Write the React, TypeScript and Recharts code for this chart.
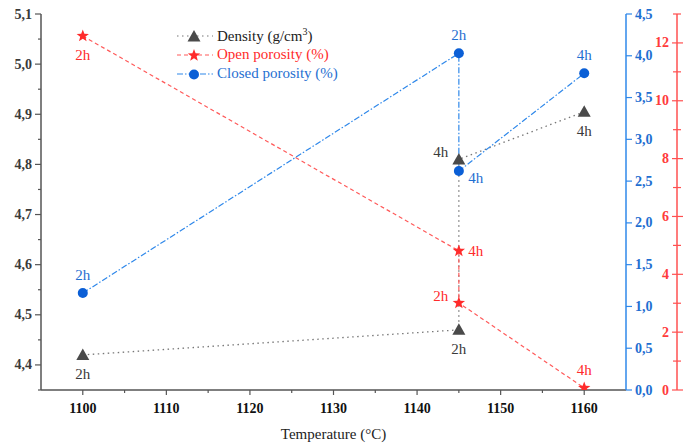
import React from 'react';
import { ComposedChart, Line, XAxis, YAxis, Legend, LabelList } from 'recharts';

// temperatures (°C) — each series visits 1145 twice (2h and 4h dwell)
const temps = [1100, 1145, 1145, 1160];

const density = [4.42, 4.47, 4.81, 4.905];
const densityTimes = ['2h', '2h', '4h', '4h'];

const openPorosity = [12.24, 4.81, 3.01, 0.07];
const openTimes = ['2h', '4h', '2h', '4h'];

const closedPorosity = [1.16, 4.03, 2.62, 3.79];
const closedTimes = ['2h', '2h', '4h', '4h'];

// axis ticks (major + minor)
const xMajor = [1100, 1110, 1120, 1130, 1140, 1150, 1160];
const xTicks = [1100, 1105, 1110, 1115, 1120, 1125, 1130, 1135, 1140, 1145, 1150, 1155, 1160];
const densMajor = [4.4, 4.5, 4.6, 4.7, 4.8, 4.9, 5.0, 5.1];
const densTicks = [4.35, 4.4, 4.45, 4.5, 4.55, 4.6, 4.65, 4.7, 4.75, 4.8, 4.85, 4.9, 4.95, 5.0, 5.05, 5.1];
const closedMajor = [0, 0.5, 1, 1.5, 2, 2.5, 3, 3.5, 4, 4.5];
const closedTicks = [0, 0.25, 0.5, 0.75, 1, 1.25, 1.5, 1.75, 2, 2.25, 2.5, 2.75, 3, 3.25, 3.5, 3.75, 4, 4.25, 4.5];
const openMajor = [0, 2, 4, 6, 8, 10, 12];
const openTicks = [0, 1, 2, 3, 4, 5, 6, 7, 8, 9, 10, 11, 12, 13];

// where the "2h"/"4h" tag sits around each point
const densitySides = ['below', 'below', 'left', 'below'];
const openSides = ['below', 'right', 'left', 'above'];
const closedSides = ['above', 'above', 'belowRight', 'above'];

const toRows = (vals: number[], times: string[]) =>
  vals.map((v, i) => ({ t: temps[i], v, time: times[i] }));

const densityData = toRows(density, densityTimes);
const openData = toRows(openPorosity, openTimes);
const closedData = toRows(closedPorosity, closedTimes);

const SERIF = '"Liberation Serif", "Times New Roman", serif';
const GRAY = '#4a4a4a';
const RED = '#ff2b2b';
const BLUE = '#0b5fd6';
const BLUE_LINE = '#2f88ea';
const BLUE_TEXT = '#1f6fd1';
const AXIS = '#555';

const comma = (v: number) => v.toFixed(1).replace('.', ',');
const isMajor = (list: number[], v: number) => list.some((m) => Math.abs(m - v) < 1e-6);

function Marker({ shape, cx, cy, color }: any) {
  if (shape === 'triangle') {
    return (
      <polygon
        points={`${cx},${cy - 6.5} ${cx - 6.5},${cy + 5} ${cx + 6.5},${cy + 5}`}
        fill={color}
      />
    );
  }
  if (shape === 'star') {
    const pts: string[] = [];
    for (let i = 0; i < 10; i++) {
      const r = i % 2 === 0 ? 6.5 : 2.7;
      const a = -Math.PI / 2 + (i * Math.PI) / 5;
      pts.push(`${cx + r * Math.cos(a)},${cy + r * Math.sin(a)}`);
    }
    return <polygon points={pts.join(' ')} fill={color} />;
  }
  return <circle cx={cx} cy={cy} r={5} fill={color} />;
}

const sideOffset: Record<string, [number, number]> = {
  below: [0, 19],
  above: [0, -18],
  left: [-18, -7],
  right: [17, 0],
  belowRight: [17, 7],
};

function timeLabel(p: any, sides: string[], color: string) {
  const x = p.x ?? p.viewBox?.x;
  const y = p.y ?? p.viewBox?.y;
  const [dx, dy] = sideOffset[sides[p.index]] || [0, 0];
  return (
    <text
      key={`lbl-${p.index}`}
      x={x + dx}
      y={y + dy}
      textAnchor="middle"
      dominantBaseline="central"
      fontFamily={SERIF}
      fontSize={15}
      fill={color}
    >
      {p.value}
    </text>
  );
}

function BottomTick({ x, y, payload }: any) {
  const major = isMajor(xMajor, payload.value);
  return (
    <g>
      <line x1={x} x2={x} y1={y} y2={y + (major ? 5 : 3)} stroke={AXIS} strokeWidth={1.2} />
      {major && (
        <text x={x} y={y + 18} textAnchor="middle" dominantBaseline="central" fontFamily={SERIF} fontWeight="bold" fontSize={14} fill="#111">
          {payload.value}
        </text>
      )}
    </g>
  );
}

function TopTick({ x, y, payload }: any) {
  const major = isMajor(xMajor, payload.value);
  return <line x1={x} x2={x} y1={y} y2={y + (major ? 5 : 3)} stroke={AXIS} strokeWidth={1.2} />;
}

function LeftTick({ x, y, payload }: any) {
  const major = isMajor(densMajor, payload.value);
  return (
    <g>
      <line x1={x - (major ? 6 : 3)} x2={x} y1={y} y2={y} stroke={AXIS} strokeWidth={1.2} />
      {major && (
        <text x={x - 9} y={y} textAnchor="end" dominantBaseline="central" fontFamily={SERIF} fontWeight="bold" fontSize={14} fill="#3a3a3a">
          {comma(payload.value)}
        </text>
      )}
    </g>
  );
}

function BlueTick({ x, y, payload }: any) {
  const major = isMajor(closedMajor, payload.value);
  return (
    <g>
      <line x1={x} x2={x + (major ? 6 : 3)} y1={y} y2={y} stroke={BLUE_LINE} strokeWidth={1.2} />
      {major && (
        <text x={x + 9} y={y} textAnchor="start" dominantBaseline="central" fontFamily={SERIF} fontWeight="bold" fontSize={14} fill={BLUE_TEXT}>
          {comma(payload.value)}
        </text>
      )}
    </g>
  );
}

function RedTick({ x, y, payload }: any) {
  const major = isMajor(openMajor, payload.value);
  return (
    <g>
      <line x1={x - (major ? 5 : 4)} x2={x + (major ? 6 : 4)} y1={y} y2={y} stroke="#ff5050" strokeWidth={1.2} />
      {major && (
        <text x={x - 8} y={y} textAnchor="end" dominantBaseline="central" fontFamily={SERIF} fontWeight="bold" fontSize={14} fill="#ff3b3b">
          {payload.value}
        </text>
      )}
    </g>
  );
}

const legendRows = [
  { shape: 'triangle', color: GRAY, line: '#777', dash: '1.5 3.5', text: '#222', label: <>Density (g/cm<sup style={{ fontSize: 10 }}>3</sup>)</> },
  { shape: 'star', color: RED, line: '#ff5a5a', dash: '4 3', text: RED, label: <>Open porosity (%)</> },
  { shape: 'circle', color: BLUE, line: BLUE_LINE, dash: '6 2 1.5 2', text: BLUE_TEXT, label: <>Closed porosity (%)</> },
];

function LegendBox() {
  return (
    <div style={{ fontFamily: SERIF, fontSize: 15 }}>
      {legendRows.map((r, i) => (
        <div key={i} style={{ display: 'flex', alignItems: 'center', height: 19 }}>
          <svg width={38} height={14} style={{ marginRight: 2 }}>
            <line x1={0} x2={36} y1={7} y2={7} stroke={r.line} strokeWidth={1.2} strokeDasharray={r.dash} />
            <Marker shape={r.shape} cx={17} cy={7.5} color={r.color} />
          </svg>
          <span style={{ color: r.text, whiteSpace: 'nowrap' }}>{r.label}</span>
        </div>
      ))}
    </div>
  );
}

export default function App() {
  return (
    <div style={{ width: 696, height: 443, background: '#fff' }}>
      <style>{'body{margin:0;}'}</style>
      <ComposedChart width={696} height={443} margin={{ top: 14, right: 0, bottom: 0, left: 0 }}>
        <XAxis
          dataKey="t"
          type="number"
          domain={[1095, 1165]}
          ticks={xTicks}
          height={53}
          tickSize={0}
          tickMargin={0}
          tickLine={false}
          tick={<BottomTick />}
          axisLine={{ stroke: AXIS, strokeWidth: 1.5 }}
          allowDuplicatedCategory
          label={{ value: 'Temperature (°C)', position: 'insideBottom', offset: 4, fontFamily: SERIF, fontSize: 15, fill: '#222' }}
        />
        <XAxis
          xAxisId="top"
          orientation="top"
          type="number"
          domain={[1095, 1165]}
          ticks={xTicks}
          height={0}
          tickSize={0}
          tickMargin={0}
          tickLine={false}
          tick={<TopTick />}
          axisLine={{ stroke: AXIS, strokeWidth: 1.5 }}
        />
        <YAxis
          yAxisId="d"
          type="number"
          domain={[4.35, 5.1]}
          ticks={densTicks}
          width={41}
          tickSize={0}
          tickMargin={0}
          tickLine={false}
          tick={<LeftTick />}
          axisLine={{ stroke: AXIS, strokeWidth: 1.5 }}
          allowDataOverflow
        />
        <YAxis
          yAxisId="c"
          orientation="right"
          type="number"
          domain={[0, 4.5]}
          ticks={closedTicks}
          width={51}
          tickSize={0}
          tickMargin={0}
          tickLine={false}
          tick={<BlueTick />}
          axisLine={{ stroke: BLUE_LINE, strokeWidth: 1.5 }}
          allowDataOverflow
        />
        <YAxis
          yAxisId="o"
          orientation="right"
          type="number"
          domain={[0, 13]}
          ticks={openTicks}
          width={19}
          tickSize={0}
          tickMargin={0}
          tickLine={false}
          tick={<RedTick />}
          axisLine={{ stroke: '#ff5050', strokeWidth: 1.5 }}
          allowDataOverflow
        />
        <Legend
          layout="vertical"
          align="center"
          verticalAlign="middle"
          content={() => <LegendBox />}
          wrapperStyle={{ left: 177, top: 26, width: 'auto' }}
        />
        <Line
          yAxisId="d"
          data={densityData}
          dataKey="v"
          name="Density"
          type="linear"
          stroke="#777"
          strokeWidth={1.3}
          strokeDasharray="1.5 3.5"
          dot={(p: any) => <Marker key={`dd-${p.index}`} shape="triangle" cx={p.cx} cy={p.cy} color={GRAY} />}
          activeDot={false}
          isAnimationActive={false}
        >
          <LabelList dataKey="time" content={(p: any) => timeLabel(p, densitySides, '#3a3a3a')} />
        </Line>
        <Line
          yAxisId="o"
          data={openData}
          dataKey="v"
          name="Open porosity"
          type="linear"
          stroke="#ff5a5a"
          strokeWidth={1.2}
          strokeDasharray="4 3"
          dot={(p: any) => <Marker key={`od-${p.index}`} shape="star" cx={p.cx} cy={p.cy} color={RED} />}
          activeDot={false}
          isAnimationActive={false}
        >
          <LabelList dataKey="time" content={(p: any) => timeLabel(p, openSides, RED)} />
        </Line>
        <Line
          yAxisId="c"
          data={closedData}
          dataKey="v"
          name="Closed porosity"
          type="linear"
          stroke={BLUE_LINE}
          strokeWidth={1.2}
          strokeDasharray="6 2 1.5 2"
          dot={(p: any) => <Marker key={`cd-${p.index}`} shape="circle" cx={p.cx} cy={p.cy} color={BLUE} />}
          activeDot={false}
          isAnimationActive={false}
        >
          <LabelList dataKey="time" content={(p: any) => timeLabel(p, closedSides, BLUE_TEXT)} />
        </Line>
      </ComposedChart>
    </div>
  );
}
